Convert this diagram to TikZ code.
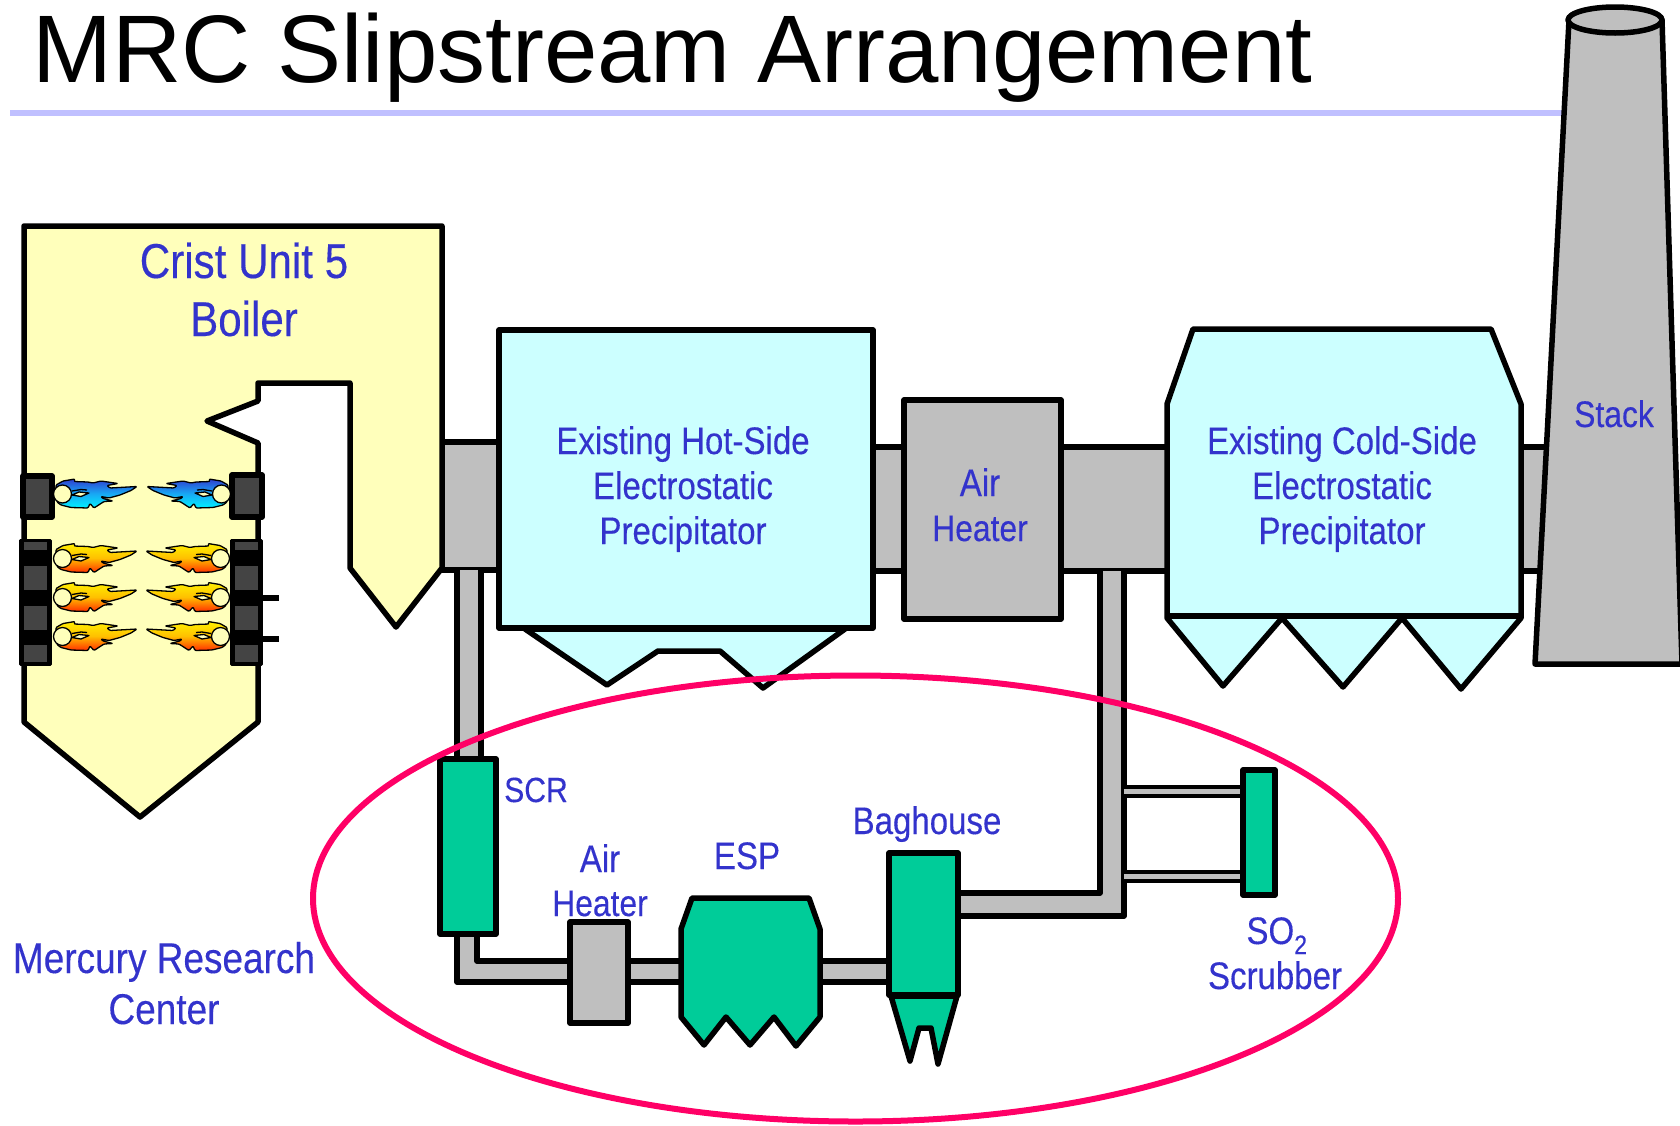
\documentclass[tikz,border=0pt]{standalone}
\usepackage{fontspec}
\setmainfont{Liberation Sans}
\newfontfamily\narrowfam[FakeStretch=0.86,FakeBold=0.25]{Liberation Sans}
\definecolor{duct}{HTML}{BFBFBF}
\definecolor{boilerfill}{HTML}{FFFFBB}
\definecolor{espfill}{HTML}{CCFFFF}
\definecolor{mrcgreen}{HTML}{00CC99}
\definecolor{lab}{HTML}{3333CC}
\definecolor{rulec}{HTML}{C0C0FF}
\definecolor{ring}{HTML}{FF0066}
\definecolor{burner}{HTML}{444444}
\definecolor{bluetop}{HTML}{2F3FD0}
\definecolor{bluemid}{HTML}{18A8F4}
\definecolor{bluebot}{HTML}{00F0FF}
\definecolor{firetop}{HTML}{FFF000}
\definecolor{firemid}{HTML}{FFC000}
\definecolor{firebot}{HTML}{FF3000}
\tikzset{
  outline/.style={draw=black,line width=5.5pt,line join=round,line cap=round},
  pipefill/.style={fill=duct,draw=none},
  pipeline/.style={draw=black,line width=5.5pt,line join=round},
  thinpipe/.style={draw=black,line width=4.5pt},
  labeltxt/.style={text=lab,anchor=base,inner sep=0pt,font=\narrowfam\fontsize{38.4}{44}\selectfont},
  smalllabel/.style={labeltxt,font=\narrowfam\fontsize{37}{44}\selectfont},
  biglabel/.style={labeltxt,font=\narrowfam\fontsize{49}{50}\selectfont},
  burnerbox/.style={fill=burner,draw=black,line width=5.5pt,line join=round},
  burnerbar/.style={fill=burner,draw=none},
  flameline/.style={draw=black,line width=1.3pt,line join=round},
}
\newcommand{\flameshape}[6]{%
 \begin{scope}[shift={(#1,#2)},xscale=#3]
  \path[flameline,rounded corners=1pt,top color=#4,bottom color=#6,middle color=#5]
   (5,15)--(12,11)--(24,9)--(23,11.5)--(37,12)--(42,13)--(50,11)--(67,13.5)--(56,15.5)--(59,18)--(86,16.5)--(80,20.5)--(69,25)--(58,28)--(50,26.5)--(52,28.5)--(62,31)--(53,31.5)--(43,38)--(39,33.5)--(37,38)--(20,37.5)--(10,35)--(6,32)--cycle;
  \path[flameline,fill=boilerfill] (11.5,24) ellipse[x radius=9,y radius=9];
  \path[flameline,fill=boilerfill] (21,25)--(28,22)--(38,23)--(30,26.5)--cycle;
  \draw[black,line width=1.3pt] (21,21)--(30,19.5)--(36,20);
 \end{scope}}
\begin{document}
\begin{tikzpicture}[x=1pt,y=-1pt]
\useasboundingbox (0,0) rectangle (1680,1125);
\clip (0,0) rectangle (1680,1125);
\fill[white] (0,0) rectangle (1680,1125);
% title
\node[anchor=base west,inner sep=0pt,font=\fontsize{96}{100}\selectfont] (title) at (32,82) {MRC Slipstream Arrangement};
\coordinate (ruleA) at (10,113);
\coordinate (ruleB) at (1572,113);
\draw[rulec,line width=5.5pt] (ruleA) -- (ruleB);
% main ducts
\path[pipefill] (442,442) rectangle (500,570);
\draw[pipeline] (442,442) -- (500,442) (442,570) -- (500,570);
\path[pipefill] (873,447) rectangle (905,571);
\draw[pipeline] (873,447) -- (905,447) (873,571) -- (905,571);
\path[pipefill] (1062,447) rectangle (1168,571);
\draw[pipeline] (1062,447) -- (1168,447) (1062,571) -- (1168,571);
\path[pipefill] (1521,447) rectangle (1560,571);
\draw[pipeline] (1521,447) -- (1560,447) (1521,571) -- (1560,571);
% branch from hot duct to SCR
\path[pipefill] (457,570) rectangle (481,760);
\draw[pipeline] (457,570) -- (457,760) (481,570) -- (481,760);
% SCR to air heater
\path[pipefill] (457,934) -- (477,934) -- (477,961) -- (572,961) -- (572,982) -- (457,982) -- cycle;
\draw[pipeline] (477,934) -- (477,961) -- (572,961);
\draw[pipeline] (457,934) -- (457,982) -- (572,982);
\path[pipefill] (629,961) rectangle (683,982);
\draw[pipeline] (629,961) -- (683,961) (629,982) -- (683,982);
\path[pipefill] (820,961) rectangle (890,982);
\draw[pipeline] (820,961) -- (890,961) (820,982) -- (890,982);
% return pipe
\path[pipefill] (958,893) -- (1100,893) -- (1100,571) -- (1124,571) -- (1124,916) -- (958,916) -- cycle;
\draw[pipeline] (958,893) -- (1100,893) -- (1100,571);
\draw[pipeline] (958,916) -- (1124,916) -- (1124,571);
% scrubber pipes
\path[fill=duct] (1124,787) rectangle (1244,796);
\draw[thinpipe] (1124,787) -- (1244,787) (1124,796) -- (1244,796);
\path[fill=duct] (1124,872) rectangle (1244,881);
\draw[thinpipe] (1124,872) -- (1244,872) (1124,881) -- (1244,881);
% boiler
\path[outline,fill=boilerfill] (24,226) -- (442,226) -- (442,568) -- (396,627) -- (350,568) -- (350,383) -- (258,383) -- (258,401) -- (207,421) -- (258,443) -- (258,722) -- (140,817) -- (24,722) -- cycle;
% burners
\path[burnerbox] (23,476) rectangle (52,517);
\path[burnerbox] (232,475) rectangle (262,517);
\path[fill=black,draw=black,line width=3pt,line join=round] (20,540) rectangle (50,664);
\path[fill=black,draw=black,line width=3pt,line join=round] (231,540) rectangle (261,664);
\foreach \ya/\yb in {542/550,566/590,606/630,645/662}{
  \path[burnerbar] (24,\ya) rectangle (47,\yb);
  \path[burnerbar] (235,\ya) rectangle (258,\yb);
}
\draw[black,line width=5.5pt] (262,598) -- (279,598) (262,639) -- (279,639);
% flames
\flameshape{51}{470}{1}{bluetop}{bluemid}{bluebot}
\flameshape{233}{470}{-1}{bluetop}{bluemid}{bluebot}
\foreach \yy in {534.5,573.5,612.5}{
  \flameshape{51}{\yy}{1}{firetop}{firemid}{firebot}
  \flameshape{232}{\yy}{-1}{firetop}{firemid}{firebot}
}
% hot ESP
\path[outline,fill=espfill] (525,629) -- (607,685) -- (658,651) -- (720,651) -- (763,688) -- (845,629) -- cycle;
\path[outline,fill=espfill] (499,330) rectangle (873,628);
% air heater
\path[outline,fill=duct] (904,400) rectangle (1061,619);
% cold ESP
\path[outline,fill=espfill] (1167,618) -- (1223,686) -- (1282,618) -- (1343,687) -- (1402,618) -- (1461,689) -- (1521,618) -- (1521,404) -- (1491,329) -- (1193,329) -- (1167,404) -- cycle;
\draw[black,line width=5.5pt] (1170,616) -- (1521,616);
% stack
\path[outline,fill=duct] (1569,20) -- (1535,664) -- (1682,664) -- (1662,20) -- cycle;
\path[outline,fill=duct] (1615,20) ellipse[x radius=47,y radius=13];
% MRC equipment
\path[outline,fill=mrcgreen] (440,759) rectangle (496,934);
\path[outline,fill=duct] (570,922) rectangle (628,1023);
\path[outline,fill=mrcgreen] (692,898) -- (809,898) -- (820,929) -- (820,1017) -- (796,1046) -- (774,1017) -- (750,1045) -- (726,1017) -- (704,1045) -- (681,1017) -- (681,929) -- cycle;
\path[outline,fill=mrcgreen] (891,996) -- (910,1061) -- (919,1028) -- (931,1028) -- (938,1064) -- (957,996) -- cycle;
\path[outline,fill=mrcgreen] (889,853) rectangle (958,995);
\path[outline,fill=mrcgreen] (1243,770) rectangle (1275,895);
% ring
\draw[ring,line width=6pt] (855.5,898.5) ellipse[x radius=542.5,y radius=223];
% labels
\node[biglabel] (crist) at (244,278) {Crist Unit 5};
\node[biglabel] (boilertxt) at (244,336) {Boiler};
\node[labeltxt] (hot1) at (683,454) {Existing Hot-Side};
\node[labeltxt] (hot2) at (683,499) {Electrostatic};
\node[labeltxt] (hot3) at (683,544) {Precipitator};
\node[labeltxt] (ah1) at (980,496) {Air};
\node[smalllabel] (ah2) at (980,541) {Heater};
\node[labeltxt] (cold1) at (1342,454) {Existing Cold-Side};
\node[labeltxt] (cold2) at (1342,499) {Electrostatic};
\node[labeltxt] (cold3) at (1342,544) {Precipitator};
\node[smalllabel] (stacktxt) at (1614,427) {Stack};
\node[labeltxt,font=\narrowfam\fontsize{35}{44}\selectfont] (scr) at (536,802) {SCR};
\node[labeltxt] (lah1) at (600,872) {Air};
\node[smalllabel] (lah2) at (600,916) {Heater};
\node[labeltxt] (esp) at (747,869) {ESP};
\node[labeltxt] (bag) at (927,834) {Baghouse};
\node[labeltxt] (so) at (1277,944) {SO\textsubscript{2}};
\node[labeltxt] (scrub) at (1275,989) {Scrubber};
\node[labeltxt,font=\narrowfam\fontsize{43}{46}\selectfont] (mrc1) at (164,973) {Mercury Research};
\node[labeltxt,font=\narrowfam\fontsize{43}{46}\selectfont] (mrc2) at (164,1024) {Center};
\end{tikzpicture}
\end{document}
